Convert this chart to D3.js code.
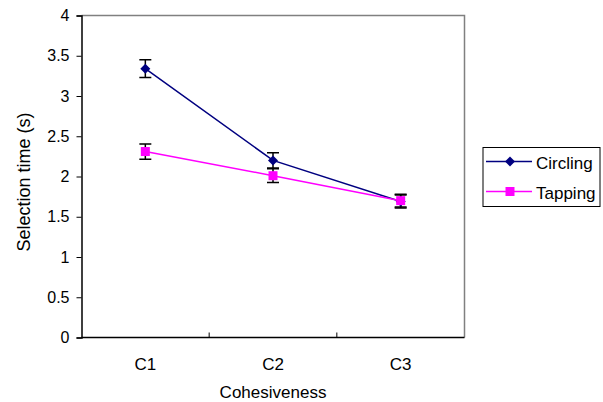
<!DOCTYPE html>
<html>
<head>
<meta charset="utf-8">
<script src="https://cdn.jsdelivr.net/npm/d3@7"></script>
<style>
  body { margin: 0; background: #fff; }
  text { font-family: "Liberation Sans", Arial, sans-serif; fill: #000; }
</style>
</head>
<body>
<div id="chart"></div>
<script>
var categories = ["C1", "C2", "C3"];
var seriesNames = ["Circling", "Tapping"];
var circling = [3.34, 2.20, 1.69];
var circlingErr = [0.11, 0.095, 0.08];
var tapping = [2.31, 2.01, 1.70];
var tappingErr = [0.095, 0.085, 0.08];
var yTicks = [0, 0.5, 1, 1.5, 2, 2.5, 3, 3.5, 4];

var margin = {top: 15.5, right: 138.5, bottom: 64.5, left: 81.5},
  width = 603 - margin.left - margin.right,
  height = 402 - margin.top - margin.bottom;

var x = d3.scaleBand()
  .domain(categories)
  .range([0, width]);

var y = d3.scaleLinear()
  .domain([0, 4])
  .range([height, 0]);

var colors = {Circling: "#000080", Tapping: "#ff00ff"};

var svg = d3.select('#chart')
  .append('svg')
    .attr('width', 603)
    .attr('height', 402)
    .append('g')
      .attr('transform', 'translate(' + margin.left + ',' + margin.top + ')');

// gray frame on top and right
svg.append("path")
  .attr("d", "M0,0H" + width + "V" + height)
  .attr("fill", "none")
  .attr("stroke", "#808080")
  .attr("stroke-width", 1.5);

// y axis
var yAxis = svg.append("g")
  .call(d3.axisLeft(y)
    .tickValues(yTicks)
    .tickSize(5)
    .tickPadding(7)
    .tickFormat(function(d) { return String(d); }));
yAxis.attr("font-family", null).attr("font-size", null);
yAxis.select(".domain").attr("stroke", "#000").attr("stroke-width", 1.5);
yAxis.selectAll("line").attr("stroke", "#000");
yAxis.selectAll("text").style("font-size", "16px");

// x axis, ticks between categories pointing up
var xAxis = svg.append("g")
  .attr("transform", "translate(0," + height + ")");
xAxis.append("line")
  .attr("x1", 0).attr("x2", width)
  .attr("stroke", "#000").attr("stroke-width", 1.5);
xAxis.selectAll(".sep")
  .data(categories.slice(1))
  .enter().append("line")
  .attr("x1", function(d) { return x(d); })
  .attr("x2", function(d) { return x(d); })
  .attr("y1", 0).attr("y2", -5)
  .attr("stroke", "#000");
xAxis.selectAll(".lab")
  .data(categories)
  .enter().append("text")
  .attr("x", function(d) { return x(d) + x.bandwidth() / 2; })
  .attr("y", 32.5)
  .attr("text-anchor", "middle")
  .style("font-size", "17px")
  .text(function(d) { return d; });

svg.append("text")
  .attr("x", width / 2)
  .attr("y", height + 60.5)
  .attr("text-anchor", "middle")
  .style("font-size", "17px")
  .text("Cohesiveness");

svg.append("text")
  .attr("transform", "rotate(-90)")
  .attr("x", -166.5)
  .attr("y", -51.5)
  .attr("text-anchor", "middle")
  .style("font-size", "18px")
  .text("Selection time (s)");

var series = [
  {name: "Circling", values: circling, err: circlingErr},
  {name: "Tapping", values: tapping, err: tappingErr}
];

var cx = function(i) { return x(categories[i]) + x.bandwidth() / 2; };

var line = d3.line()
  .x(function(d, i) { return cx(i); })
  .y(function(d) { return y(d); });

series.forEach(function(s) {
  var g = svg.append("g");
  // error bars
  s.values.forEach(function(v, i) {
    var top = y(v + s.err[i]), bot = y(v - s.err[i]), px = cx(i);
    g.append("path")
      .attr("d", "M" + px + "," + top + "V" + bot +
        "M" + (px - 6) + "," + top + "H" + (px + 6) +
        "M" + (px - 6) + "," + bot + "H" + (px + 6))
      .attr("stroke", "#000").attr("stroke-width", 1.5).attr("fill", "none");
  });
});

series.forEach(function(s) {
  var g = svg.append("g");
  g.append("path")
    .datum(s.values)
    .attr("d", line)
    .attr("fill", "none")
    .attr("stroke", colors[s.name])
    .attr("stroke-width", 1.5);
  g.selectAll("path.m")
    .data(s.values)
    .enter().append("path")
    .attr("class", "m")
    .attr("transform", function(d, i) { return "translate(" + cx(i) + "," + y(d) + ")"; })
    .attr("d", s.name == "Circling" ? "M0,-5L5,0L0,5L-5,0Z" : "M-4.5,-4.5H4.5V4.5H-4.5Z")
    .attr("fill", colors[s.name]);
});

// legend
var legend = d3.select("svg").append("g")
  .attr("transform", "translate(483,147.5)");
legend.append("rect")
  .attr("width", 117).attr("height", 59)
  .attr("fill", "#fff").attr("stroke", "#000");
seriesNames.forEach(function(n, i) {
  var ly = 14 + i * 30;
  legend.append("line")
    .attr("x1", 3).attr("x2", 49)
    .attr("y1", ly).attr("y2", ly)
    .attr("stroke", colors[n]).attr("stroke-width", 1.5);
  legend.append("path")
    .attr("transform", "translate(27," + ly + ")")
    .attr("d", n == "Circling" ? "M0,-5L5,0L0,5L-5,0Z" : "M-4.5,-4.5H4.5V4.5H-4.5Z")
    .attr("fill", colors[n]);
  legend.append("text")
    .attr("x", 53).attr("y", ly + 7)
    .style("font-size", "17px")
    .text(n);
});
</script>
</body>
</html>
